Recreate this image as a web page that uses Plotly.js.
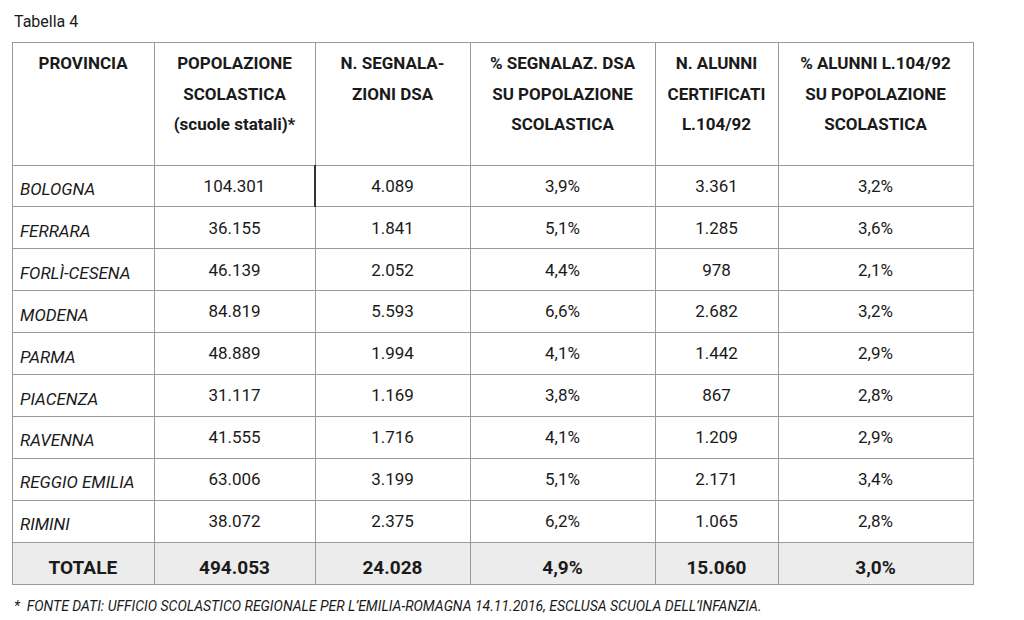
<!DOCTYPE html>
<html><head><meta charset="utf-8">
<script src="https://cdn.plot.ly/plotly-3.0.1.min.js"></script>
<style>body{margin:0;background:#fff}#chart{width:1024px;height:620px}</style>
</head><body><div id="chart"></div>
<script>
const headers = [
  "PROVINCIA",
  "POPOLAZIONE<br>SCOLASTICA<br>(scuole statali)*",
  "N. SEGNALA-<br>ZIONI DSA",
  "% SEGNALAZ. DSA<br>SU POPOLAZIONE<br>SCOLASTICA",
  "N. ALUNNI<br>CERTIFICATI<br>L.104/92",
  "% ALUNNI L.104/92<br>SU POPOLAZIONE<br>SCOLASTICA"
];
const province = ["BOLOGNA","FERRARA","FORLÌ-CESENA","MODENA","PARMA","PIACENZA","RAVENNA","REGGIO EMILIA","RIMINI"];
const popolazione = [104301, 36155, 46139, 84819, 48889, 31117, 41555, 63006, 38072];
const segnalazioni = [4089, 1841, 2052, 5593, 1994, 1169, 1716, 3199, 2375];
const pctDSA = [3.9, 5.1, 4.4, 6.6, 4.1, 3.8, 4.1, 5.1, 6.2];
const certificati = [3361, 1285, 978, 2682, 1442, 867, 1209, 2171, 1065];
const pct104 = [3.2, 3.6, 2.1, 3.2, 2.9, 2.8, 2.9, 3.4, 2.8];
const totaleLabel = "TOTALE";
const totale = [494053, 24028, 4.9, 15060, 3.0];
const tableTitle = "Tabella 4";
const footnote = "*  FONTE DATI: UFFICIO SCOLASTICO REGIONALE PER L’EMILIA-ROMAGNA 14.11.2016, ESCLUSA SCUOLA DELL’INFANZIA.";

const fmtInt = v => String(v).replace(/\B(?=(\d{3})+(?!\d))/g, ".");
const fmtPct = v => v.toFixed(1).replace(".", ",") + "%";
const b = s => "<b>" + s + "</b>";
const nb = s => s.replace(/ /g, "\u00a0");

const col0 = province.map(p => "<i>" + nb(p) + "</i>").concat([b(totaleLabel)]);
const col1 = popolazione.map(fmtInt).concat([b(fmtInt(totale[0]))]);
const col2 = segnalazioni.map(fmtInt).concat([b(fmtInt(totale[1]))]);
const col3 = pctDSA.map(fmtPct).concat([b(fmtPct(totale[2]))]);
const col4 = certificati.map(fmtInt).concat([b(fmtInt(totale[3]))]);
const col5 = pct104.map(fmtPct).concat([b(fmtPct(totale[4]))]);
const cols = [col0, col1, col2, col3, col4, col5];

const n = province.length + 1;
const fills = Array.from({length: n}, (_, i) => i === n - 1 ? "#ececec" : "#ffffff");
const aligns0 = Array.from({length: n}, (_, i) => i === n - 1 ? "center" : "left");
const sizes = Array.from({length: n}, (_, i) => i === n - 1 ? 19 : 17);

// header lines split so that each line is centred on its own
const headerLines = headers.map(h => h.split("<br>").map(nb));
const headerRows = 4;
const headerGrid = headerLines.map(ls => ls.concat(Array(headerRows - ls.length).fill("")));

const font = "Roboto, sans-serif";
const widths = [142, 161, 155, 185, 123, 195];
const xDom = [12/1024, 973/1024];
const topPx = 42, textShift = 6, headerH = 123, rowH = 41.9;
const clear = "rgba(0,0,0,0)";

// grid: borders and fills
const grid = {
  type: "table",
  domain: {x: xDom, y: [0.0, 1 - topPx/620]},
  columnwidth: widths,
  header: {
    values: headers.map(() => ""),
    height: headerH,
    fill: {color: "#ffffff"},
    line: {color: "#9a9a9a", width: 1}
  },
  cells: {
    values: cols.map(c => c.map(() => "")),
    height: rowH,
    fill: {color: cols.map(() => fills)},
    line: {color: "#9a9a9a", width: 1}
  }
};

// text layer
const text = {
  type: "table",
  domain: {x: xDom, y: [0.0, 1 - (topPx + textShift)/620]},
  columnwidth: widths,
  header: {
    values: headerGrid,
    align: "center",
    height: headerH / headerRows,
    fill: {color: clear},
    line: {color: clear, width: 0},
    font: {family: font, size: 17, color: "#1a1a1a", weight: 700}
  },
  cells: {
    values: cols,
    align: [aligns0, "center", "center", "center", "center", "center"],
    height: rowH,
    fill: {color: clear},
    line: {color: clear, width: 0},
    font: {family: font, size: cols.map(() => sizes), color: "#1a1a1a"}
  }
};

const layout = {
  width: 1024, height: 620,
  margin: {l: 0, r: 0, t: 0, b: 0},
  paper_bgcolor: "#ffffff",
  showlegend: false,
  annotations: [
    {text: tableTitle, xref: "paper", yref: "paper", x: 12/1024, y: 1 - 21/620,
     xanchor: "left", yanchor: "middle", showarrow: false,
     font: {family: font, size: 16, color: "#1a1a1a"}},
    {text: "<i>" + footnote + "</i>", xref: "paper", yref: "paper", x: 12/1024, y: 1 - 606/620,
     xanchor: "left", yanchor: "middle", showarrow: false,
     font: {family: font, size: 14, color: "#1a1a1a"}}
  ],
  shapes: [
    {type: "line", xref: "paper", yref: "paper", x0: 315/1024, x1: 315/1024, y0: 1 - 165/620, y1: 1 - 207/620,
     line: {color: "#333333", width: 2}}
  ]
};

Plotly.newPlot("chart", [grid, text], layout, {displayModeBar: false, staticPlot: true});
</script>
</body></html>
